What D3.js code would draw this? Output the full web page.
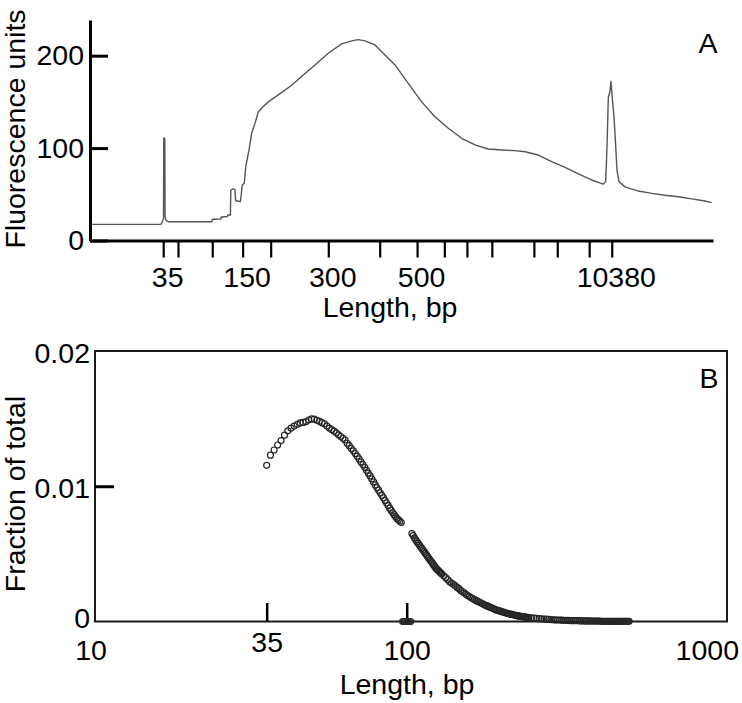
<!DOCTYPE html>
<html>
<head>
<meta charset="utf-8">
<script src="https://cdn.jsdelivr.net/npm/d3@7"></script>
<style>
  body { margin: 0; background: #fff; }
  svg text { font-family: "Liberation Sans", Arial, Helvetica, sans-serif; font-size: 28.5px; fill: #000; }
</style>
</head>
<body>
<svg id="chart" width="742" height="703"></svg>
<script>
// ---------- Panel A data (Bioanalyzer trace) ----------
const ladderSizes = [35, 50, 100, 150, 200, 300, 400, 500, 600, 700, 1000, 2000, 3000, 7000, 10380];
const ladderTimes = [49.4, 51.3, 55.7, 59.6, 63.2, 70.6, 77.2, 82.0, 85.5, 88.4, 91.6, 97.0, 100.0, 104.1, 107.0];
const labeledSizes = [35, 150, 300, 500, 10380];
const fluorTicks = [0, 100, 200];
// [migration time (s), fluorescence units]
const trace = [
  [40.0,17.5],[49.1,17.5],[49.3,20.5],[49.44,24],[49.47,110.6],[49.6,110.6],[49.64,26],[49.75,22],
  [50.05,20.3],[55.65,20.3],[55.72,23],[56.8,23.2],[56.85,25.5],[57.65,26],[57.7,27.6],[58.03,27.6],
  [58.08,54.6],[58.4,56],[58.62,55],[58.7,43],[59.3,42],[59.4,48],[59.55,60],[59.81,62],[60.0,80],
  [60.12,85],[60.42,98],[60.76,116],[61.19,127],[61.61,139],[62.25,145],[62.9,150],[64.18,157.5],
  [65.9,168],[67.39,179],[68.89,190],[70.6,202.6],[72.32,212.7],[73.6,216],[74.45,217.3],[75.31,216],[76.6,211.6],
  [77.88,200.8],[79.17,190],[80.87,170],[82.59,150],[84.3,134],[86.01,121.4],[87.73,110.6],[89.44,103.4],
  [91.15,99],[92.87,98],[94.57,97.2],[95.86,96],[97.57,92.5],[99.29,85.3],[101.0,79.2],[102.7,72],
  [104.42,65.5],[105.91,61],[106.22,64],[106.39,101.5],[106.56,155],[106.77,161],[106.9,172],[107.07,154],
  [107.29,134],[107.51,101.5],[107.67,76],[107.93,63.6],[108.7,58],[110.41,53.5],[112.13,51],[113.84,49],
  [115.55,47.4],[117.26,45],[118.97,42.7],[119.83,41]
];

// ---------- Panel B data (fraction of total vs length) ----------
const lengthTicks = [10, 35, 100, 1000];
const markedLengths = [35, 100];
const raisedLabels = [35];
const fractionTicks = [0, 0.01, 0.02];
const markedFractions = [0.01];
// [length (bp), fraction of total]
const fractions = [
  [35,.01155],[36,.01230],[37,.01268],[38,.01305],[39,.01338],[40,.01378],[41,.01410],[42,.01430],
  [43,.01445],[44,.01458],[45,.01468],[46,.01472],[47,.01478],[48,.01490],[49,.01498],[50,.01496],
  [51,.01488],[52,.01480],[53,.01470],[54,.01462],[55,.01445],[56,.01430],[57,.01418],[58,.01407],
  [59,.01395],[60,.01380],[61,.01368],[62,.01355],[63,.01342],[64,.01318],[65,.01300],[66,.01280],
  [67,.01262],[68,.01242],[69,.01222],[70,.01202],[71,.01180],[72,.01160],[73,.01140],[74,.01118],
  [75,.01097],[76,.01076],[77,.01054],[78,.01032],[79,.01010],[80,.00990],[81,.00971],[82,.00952],
  [83,.00933],[84,.00915],[85,.00895],[86,.00876],[87,.00858],[88,.00838],[89,.00821],[90,.00805],
  [91,.00790],[92,.00775],[93,.00762],[94,.00752],[95,.00742],[96,.00732],
  [97,0],[98,0],[99,0],[100,0],[101,0],[102,0],[103,0],
  [104,.00650],[105,.00635],[106,.00618],[107,.00603],[108,.00590],[109,.00577],[110,.00565],[111,.00552],
  [112,.00540],[113,.00528],[114,.00516],[115,.00503],[116,.00492],[117,.00480],[118,.00468],[119,.00456],
  [120,.00445],[121,.00435],[122,.00422],[123,.00411],[124,.00400],[125,.00390],[126,.00383],[127,.00375],
  [128,.00367],[129,.00360],[130,.00352],[132,.00338],[134,.00324],[136,.00309],[138,.00294],[140,.00284],
  [142,.00274],[144,.00264],[146,.00252],[148,.00243],[150,.00230],[152,.00220],[154,.00211],[156,.00201],
  [158,.00192],[160,.00184],[162,.00177],[164,.00170],[166,.00163],[168,.00156],[170,.00150],[172,.00144],
  [174,.00139],[176,.00133],[178,.00127],[180,.00122],[182,.00117],[184,.00113],[186,.00108],[188,.00103],
  [190,.00099],[192,.00094],[194,.00090],[196,.00085],[198,.00082],[200,.00079],[202,.00076],[204,.00073],
  [206,.00070],[208,.00067],[210,.00064],[212,.00061],[214,.00059],[216,.00056],[218,.00054],[220,.00052],
  [222,.00050],[224,.00048],[226,.00046],[228,.00044],[230,.00042],[232,.00041],[234,.00039],[236,.00038],
  [238,.00036],[240,.00035],[242,.00034],[244,.00032],[246,.00031],[248,.00030],[250,.00029],[255,.00027],
  [260,.00025],[265,.00023],[270,.00021],[275,.00020],[280,.00018],[285,.00017],[290,.00015],[295,.00014],
  [300,.00013],[305,.00012],[310,.00011],[315,.00011],[320,.00010],[325,.00009],[330,.00009],[335,.00008],
  [340,.00007],[345,.00007],[350,.00006],[355,.00006],[360,.00006],[365,.00005],[370,.00005],[375,.00005],
  [380,.00004],[385,.00004],[390,.00004],[395,.00004],[400,.00003],[405,.00003],[410,.00003],[415,.00003],
  [420,.00003],[425,.00003],[430,.00002],[435,.00002],[440,.00002],[445,.00002],[450,.00002],[455,.00002],
  [460,.00002],[465,.00002],[470,.00001],[475,.00001],[480,.00001],[485,.00001],[490,.00001],[495,.00001],
  [500,.00001],[505,.00001],[510,.00001],[515,.00001],[520,.00001],[525,.00001],[530,.00001]
];

const svg = d3.select('#chart');

function cleanAxisText(g) {
  g.attr('font-size', null).attr('font-family', null);
}

// ================= Panel A =================
const xA = d3.scaleLinear().domain([40, 120]).range([90, 713]);
const yA = d3.scaleLinear().domain([0, 238.6]).range([240.5, 20]);
const gA = svg.append('g');

gA.append('path')
  .datum(trace)
  .attr('d', d3.line().x(d => xA(d[0])).y(d => yA(d[1])))
  .attr('fill', 'none')
  .attr('stroke', '#555')
  .attr('stroke-width', 1.4)
  .attr('stroke-linejoin', 'round');

const axAx = gA.append('g')
  .attr('transform', `translate(0,${yA(0)})`)
  .call(d3.axisBottom(xA)
    .tickValues(ladderTimes)
    .tickSizeInner(17)
    .tickSizeOuter(0)
    .tickPadding(9)
    .tickFormat((t, i) => labeledSizes.includes(ladderSizes[i]) ? String(ladderSizes[i]) : ''))
  .call(cleanAxisText);
axAx.select('.domain').attr('stroke', '#000').attr('stroke-width', 3);
axAx.selectAll('.tick line').attr('stroke', '#000').attr('stroke-width', 2.2);
axAx.selectAll('.tick text').attr('dx', 4);

const axAy = gA.append('g')
  .attr('transform', `translate(${xA.range()[0]},0)`)
  .call(d3.axisLeft(yA)
    .tickValues(fluorTicks)
    .tickSizeInner(-18)
    .tickSizeOuter(0)
    .tickPadding(6)
    .tickFormat(d3.format('d')))
  .call(cleanAxisText);
axAy.select('.domain').attr('stroke', '#000').attr('stroke-width', 3);
axAy.selectAll('.tick line').attr('stroke', '#000').attr('stroke-width', 3);

gA.append('text').attr('x', 390).attr('y', 317).attr('text-anchor', 'middle').text('Length, bp');
gA.append('text').attr('transform', 'translate(25,129) rotate(-90)').attr('text-anchor', 'middle').text('Fluorescence units');
gA.append('text').attr('x', 708).attr('y', 53).attr('text-anchor', 'middle').text('A');

// ================= Panel B =================
const xB = d3.scaleLog().domain([10, 1000]).range([99.6, 713.8]);
const yB = d3.scaleLinear().domain([0, 0.02]).range([621.5, 351]);
const gB = svg.append('g');

gB.append('rect')
  .attr('x', 95).attr('y', yB(0.02))
  .attr('width', 727 - 95).attr('height', yB(0) - yB(0.02))
  .attr('fill', 'none').attr('stroke', '#1a1a1a').attr('stroke-width', 2);

const axBy = gB.append('g')
  .attr('transform', 'translate(95,0)')
  .call(d3.axisLeft(yB)
    .tickValues(fractionTicks)
    .tickSizeInner(-19)
    .tickSizeOuter(0)
    .tickPadding(5)
    .tickFormat(d => d === 0 ? '0' : d3.format('.2f')(d)))
  .call(cleanAxisText);
axBy.select('.domain').remove();
axBy.selectAll('.tick line').filter(d => !markedFractions.includes(d)).remove();
axBy.selectAll('.tick line').attr('stroke', '#000').attr('stroke-width', 3);
axBy.selectAll('.tick text').attr('dy', d => d === 0 ? '0.2em' : '0.4em');

const axBx = gB.append('g')
  .attr('transform', `translate(0,${yB(0)})`)
  .call(d3.axisBottom(xB)
    .tickValues(lengthTicks)
    .tickSizeInner(-18.5)
    .tickSizeOuter(0)
    .tickPadding(18.5)
    .tickFormat(d3.format('d')))
  .call(cleanAxisText);
axBx.select('.domain').remove();
axBx.selectAll('.tick line').filter(d => !markedLengths.includes(d)).remove();
axBx.selectAll('.tick line').attr('stroke', '#000').attr('stroke-width', 2.5);
axBx.selectAll('.tick text').filter(d => raisedLabels.includes(d)).attr('y', 10);
axBx.selectAll('.tick text').filter(d => d === 10).attr('dx', -9);
axBx.selectAll('.tick text').filter(d => d === 1000).attr('dx', -7);

gB.append('g')
  .selectAll('circle')
  .data(fractions)
  .join('circle')
  .attr('cx', d => xB(d[0]))
  .attr('cy', d => yB(d[1]))
  .attr('r', 3)
  .attr('fill', 'none')
  .attr('stroke', '#262626')
  .attr('stroke-width', 1.2);

gB.append('text').attr('x', 407).attr('y', 694).attr('text-anchor', 'middle').text('Length, bp');
gB.append('text').attr('transform', 'translate(25,494) rotate(-90)').attr('text-anchor', 'middle').text('Fraction of total');
gB.append('text').attr('x', 709).attr('y', 388).attr('text-anchor', 'middle').text('B');
</script>
</body>
</html>
